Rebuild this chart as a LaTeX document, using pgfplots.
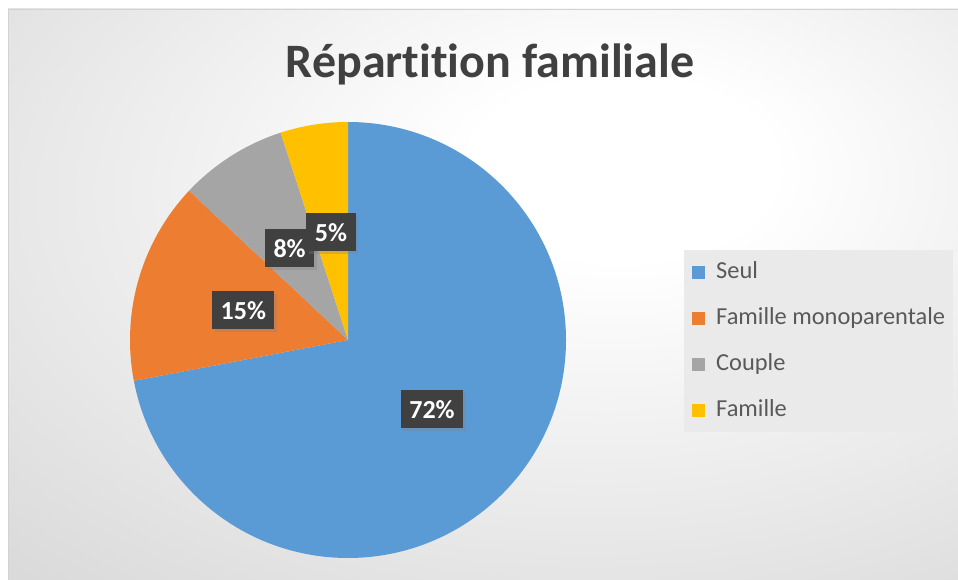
\documentclass[border=0pt]{standalone}
\usepackage{fontspec}
\setmainfont{Carlito}[Ligatures=NoCommon]
\usepackage{pgfplots}
\pgfplotsset{compat=1.18}
\usepackage{pgfplotstable}
\usetikzlibrary{shadows}
\definecolor{pie0}{HTML}{5B9BD5}
\definecolor{pie1}{HTML}{ED7D31}
\definecolor{pie2}{HTML}{A5A5A5}
\definecolor{pie3}{HTML}{FFC000}
\definecolor{lblbg}{HTML}{404040}
\definecolor{titletxt}{HTML}{404040}
\definecolor{legtxt}{HTML}{595959}
\definecolor{legbg}{HTML}{EAEAEA}
\definecolor{bgout}{HTML}{CDCDCD}

\pgfplotstableread{
idx value
0 72
1 15
2 8
3 5
}\piedata

\xdef\cum{0}
\pgfplotstableforeachcolumnelement{value}\of\piedata\as\v{%
  \pgfmathsetmacro\sa{90-3.6*\cum}%
  \pgfmathsetmacro\newcum{\cum+\v}%
  \pgfmathsetmacro\ea{90-3.6*\newcum}%
  \pgfmathsetmacro\ma{(\sa+\ea)/2}%
  \expandafter\xdef\csname sa\pgfplotstablerow\endcsname{\sa}%
  \expandafter\xdef\csname ea\pgfplotstablerow\endcsname{\ea}%
  \expandafter\xdef\csname ma\pgfplotstablerow\endcsname{\ma}%
  \expandafter\xdef\csname val\pgfplotstablerow\endcsname{\v}%
  \xdef\cum{\newcum}%
}

\pgfdeclareradialshading{bgshade}{\pgfpoint{8bp}{12bp}}{%
  color(0bp)=(white); color(8bp)=(white); color(55bp)=(bgout); color(100bp)=(bgout)}

\begin{document}
\begin{tikzpicture}
\path[use as bounding box] (0,0) rectangle (958pt,580pt);
\fill[white] (0,0) rectangle (958pt,580pt);
\shade[shading=bgshade] (8pt,0pt) rectangle (958pt,571pt);
\draw[gray!35, line width=0.8pt] (8pt,0pt) -- (8pt,571pt) -- (958pt,571pt);

\node[anchor=base, font=\bfseries\fontsize{48}{58}\selectfont, text=titletxt]
  at (490pt,502pt) {Répartition familiale};

\begin{axis}[
  at={(348pt,240pt)}, anchor=center,
  scale only axis, width=436pt, height=436pt,
  xmin=-1, xmax=1, ymin=-1, ymax=1,
  hide axis, clip=false,
  legend image code/.code={\fill[#1, draw=none] (0pt,-6.5pt) rectangle (13pt,6.5pt);},
  legend cell align=left,
  legend style={
    at={(1.2706,0.7064)}, anchor=north west,
    draw=none, fill=legbg,
    inner xsep=8pt, inner ysep=11.5pt,
    font=\fontsize{24.4}{29}\selectfont, text=legtxt,
    row sep=25pt,
    nodes={inner sep=0pt, text height=17pt, text depth=4pt},
    /tikz/every odd column/.style={column sep=11pt},
  },
]
\pgfplotsinvokeforeach{0,...,3}{
  \fill[pie#1] (axis cs:0,0) -- (axis cs:{cos(\csname sa#1\endcsname)},{sin(\csname sa#1\endcsname)})
     arc[start angle=\csname sa#1\endcsname, end angle=\csname ea#1\endcsname, radius=218pt] -- cycle;
}
\pgfplotsinvokeforeach{0,...,3}{
  \node[fill=lblbg, text=white, font=\bfseries\fontsize{26}{30}\selectfont,
        inner xsep=8.5pt, inner ysep=9.5pt, text height=19pt, text depth=0pt,
        drop shadow={opacity=0.3, shadow xshift=2.5pt, shadow yshift=-3pt}]
    at (axis cs:{0.5*cos(\csname ma#1\endcsname)},{0.5*sin(\csname ma#1\endcsname)})
    {\csname val#1\endcsname\%};
}
\addlegendimage{fill=pie0}\addlegendentry{Seul}
\addlegendimage{fill=pie1}\addlegendentry{Famille monoparentale}
\addlegendimage{fill=pie2}\addlegendentry{Couple}
\addlegendimage{fill=pie3}\addlegendentry{Famille}
\end{axis}
\end{tikzpicture}
\end{document}
